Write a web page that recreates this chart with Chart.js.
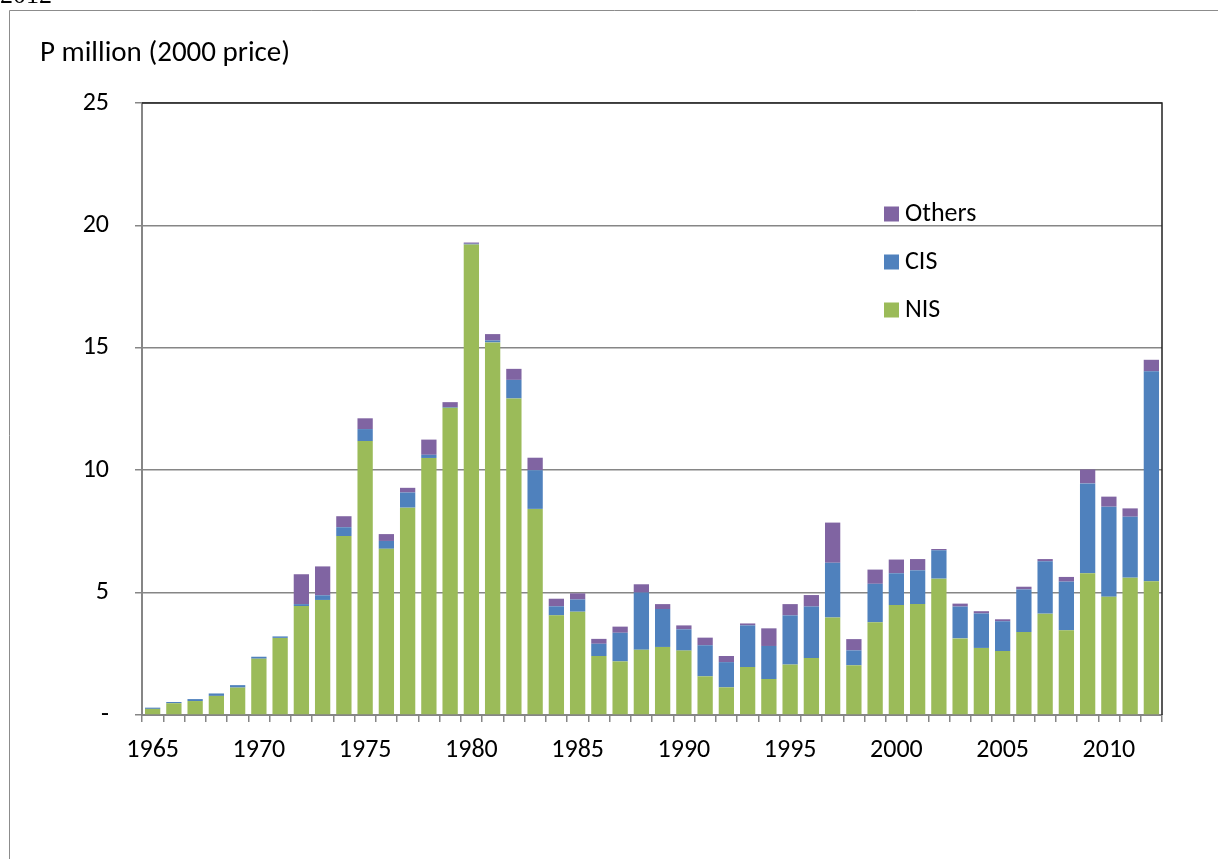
<!DOCTYPE html>
<html>
<head>
<meta charset="utf-8">
<script src="https://cdn.jsdelivr.net/npm/chart.js@4/dist/chart.umd.min.js"></script>
<style>
  html, body { margin: 0; padding: 0; background: #fff; }
  #wrap { width: 1218px; height: 859px; position: relative; }
</style>
</head>
<body>
<div id="wrap"><canvas id="chart" width="1218" height="859"></canvas></div>
<script>
// Dữ liệu: P million (2000 price), 1965-2012
const years = [1965, 1966, 1967, 1968, 1969, 1970, 1971, 1972, 1973, 1974, 1975, 1976, 1977, 1978, 1979, 1980,
  1981, 1982, 1983, 1984, 1985, 1986, 1987, 1988, 1989, 1990, 1991, 1992, 1993, 1994, 1995, 1996,
  1997, 1998, 1999, 2000, 2001, 2002, 2003, 2004, 2005, 2006, 2007, 2008, 2009, 2010, 2011, 2012];

const nis = [0.25, 0.48, 0.57, 0.78, 1.12, 2.3, 3.15, 4.45, 4.7, 7.31, 11.19, 6.79, 8.47,
  10.5, 12.55, 19.22, 15.22, 12.93, 8.42, 4.07, 4.22, 2.41, 2.19,
  2.67, 2.78, 2.63, 1.58, 1.13, 1.96, 1.47, 2.06, 2.33, 3.98,
  2.03, 3.79, 4.49, 4.53, 5.57, 3.13, 2.74, 2.61, 3.39, 4.14,
  3.46, 5.79, 4.83, 5.61, 5.46];

const cis = [0.05, 0.05, 0.08, 0.1, 0.1, 0.08, 0.06, 0.08, 0.19, 0.36, 0.49, 0.32, 0.62,
  0.13, 0.03, 0.03, 0.08, 0.76, 1.58, 0.37, 0.5, 0.5, 1.17,
  2.33, 1.55, 0.87, 1.27, 1.03, 1.7, 1.35, 2.01, 2.1, 2.24,
  0.61, 1.57, 1.3, 1.38, 1.16, 1.3, 1.41, 1.22, 1.74, 2.14,
  1.99, 3.67, 3.68, 2.49, 8.58];

const others = [0, 0, 0, 0, 0, 0, 0, 1.22, 1.18, 0.45, 0.44, 0.28, 0.19,
  0.62, 0.2, 0.05, 0.26, 0.45, 0.51, 0.31, 0.25, 0.2, 0.25,
  0.34, 0.2, 0.16, 0.31, 0.25, 0.08, 0.72, 0.46, 0.47, 1.64,
  0.46, 0.58, 0.56, 0.46, 0.05, 0.12, 0.09, 0.08, 0.11, 0.09,
  0.19, 0.57, 0.41, 0.34, 0.47];

const yTicks = [0, 5, 10, 15, 20, 25];
const yTitle = 'P million (2000 price)';

const FONT = 'Carlito, Lato, "Liberation Sans", sans-serif';
const AXIS_GRAY = '#868686';

// Khung ngoài, tiêu đề trục, viền trên/phải, chú thích
const decor = {
  id: 'decor',
  beforeDraw(chart) {
    const ctx = chart.ctx;
    ctx.save();
    ctx.fillStyle = '#fff';
    ctx.fillRect(0, 0, chart.width, chart.height);
    ctx.strokeStyle = '#8c8c8c';
    ctx.lineWidth = 1;
    ctx.beginPath();
    ctx.moveTo(9.5, chart.height + 5);
    ctx.lineTo(9.5, 10.5);
    ctx.lineTo(chart.width + 5, 10.5);
    ctx.stroke();
    // phần chữ bị cắt ở góc trên
    ctx.fillStyle = '#000';
    ctx.font = '26px "Liberation Serif", serif';
    ctx.textBaseline = 'alphabetic';
    ctx.fillText('2012', 0, 3);
    ctx.restore();
  },
  afterDraw(chart) {
    const ctx = chart.ctx;
    const a = chart.chartArea;
    ctx.save();
    ctx.strokeStyle = '#222';
    ctx.lineWidth = 1.5;
    ctx.beginPath();
    ctx.moveTo(a.left, a.top);
    ctx.lineTo(a.right, a.top);
    ctx.lineTo(a.right, a.bottom);
    ctx.stroke();

    ctx.fillStyle = '#000';
    ctx.font = '29px ' + FONT;
    ctx.textBaseline = 'alphabetic';
    ctx.textAlign = 'left';
    ctx.fillText(yTitle, 40, 61);

    // chú thích, thứ tự đảo ngược
    ctx.font = '26px ' + FONT;
    ctx.textBaseline = 'middle';
    const ds = chart.data.datasets;
    const ys = [214, 262, 310];
    for (let k = 0; k < ds.length; k++) {
      const d = ds[ds.length - 1 - k];
      ctx.fillStyle = d.backgroundColor;
      ctx.fillRect(884, ys[k] - 7.5, 15, 15);
      ctx.fillStyle = '#000';
      ctx.fillText(d.label, 905, ys[k]);
    }
    ctx.restore();
  }
};

new Chart(document.getElementById('chart'), {
  type: 'bar',
  data: {
    labels: years,
    datasets: [
      { label: 'NIS', data: nis, backgroundColor: '#9BBB59' },
      { label: 'CIS', data: cis, backgroundColor: '#4F81BD' },
      { label: 'Others', data: others, backgroundColor: '#8064A2' }
    ]
  },
  options: {
    responsive: false,
    animation: false,
    layout: { padding: { left: 0, top: 103, right: 56, bottom: 0 } },
    datasets: { bar: { categoryPercentage: 1, barPercentage: 0.72, borderWidth: 0 } },
    plugins: { legend: { display: false }, tooltip: { enabled: false } },
    scales: {
      x: {
        stacked: true,
        afterFit: s => { s.height = 144; },
        border: { display: true, color: AXIS_GRAY, width: 2 },
        grid: { drawOnChartArea: false, drawTicks: true, tickLength: 7, color: AXIS_GRAY, lineWidth: 1.5 },
        ticks: {
          autoSkip: false,
          maxRotation: 0,
          padding: 13,
          color: '#000',
          font: { family: FONT, size: 26 },
          callback: (v, i) => (years[i] % 5 === 0 ? String(years[i]) : '')
        }
      },
      y: {
        stacked: true,
        min: 0,
        max: 25,
        afterFit: s => { s.width = 142; },
        afterBuildTicks: s => { s.ticks = yTicks.map(v => ({ value: v })); },
        border: { display: true, color: AXIS_GRAY, width: 2 },
        grid: { color: AXIS_GRAY, lineWidth: 1.5, drawTicks: true, tickLength: 7 },
        ticks: {
          padding: 26,
          color: '#000',
          font: { family: FONT, size: 26 },
          callback: v => (v === 0 ? '-' : String(v))
        }
      }
    }
  },
  plugins: [decor]
});
</script>
</body>
</html>
